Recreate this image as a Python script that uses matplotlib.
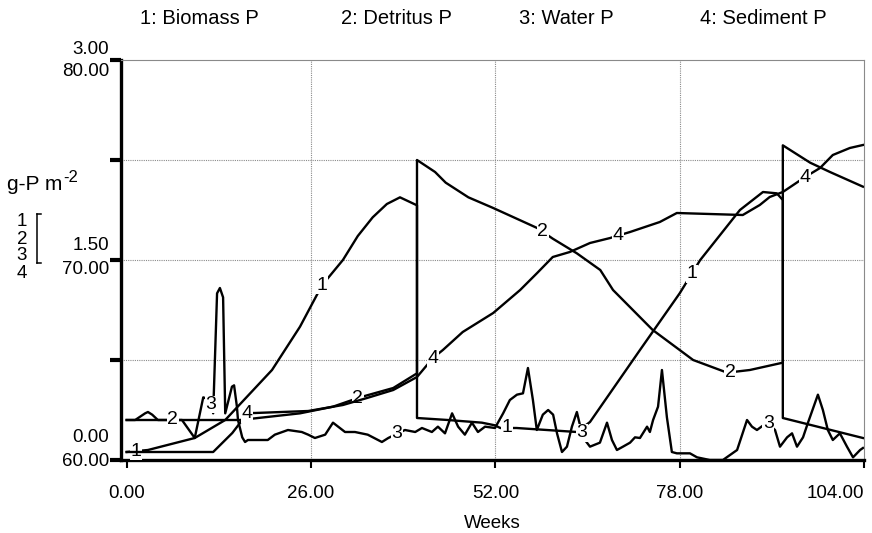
import matplotlib
matplotlib.use('Agg')
import matplotlib.pyplot as plt
from matplotlib.lines import Line2D
import numpy as np

plt.rcParams['font.family'] = ['Liberation Sans', 'DejaVu Sans']

# --- data (weeks, g-P m-2) ---
# 1: Biomass P (left scale 0-3)
bio_wk = [0, 3.0, 9.6, 13.9, 20.5, 24.45, 27.55, 30.5, 32.6, 34.7, 36.7, 38.55, 40.95, 40.95,
          45.3, 50.1, 51.95, 52.7, 55.0, 63.5, 65.35, 72.4, 78.0, 80.9, 86.5, 89.75, 91.7,
          92.55, 92.55, 103.85]
bio_val = [0.06, 0.075, 0.165, 0.30, 0.675, 1.0, 1.31, 1.50, 1.68, 1.82, 1.92, 1.97, 1.91,
           0.315, 0.30, 0.28, 0.26, 0.24, 0.24, 0.21, 0.285, 0.825, 1.25, 1.50, 1.875, 2.01,
           2.0, 1.95, 0.315, 0.165]

# 2: Detritus P (left scale 0-3)
det_wk = [0, 16.0, 24.45, 29.1, 32.9, 37.6, 40.95, 40.95, 43.5, 45.0, 48.2, 51.7, 57.9, 60.1,
          63.5, 66.8, 68.6, 74.2, 78.0, 79.9, 84.7, 87.9, 92.55, 92.55, 96.4, 99.2, 103.85]
det_val = [0.30, 0.30, 0.35, 0.40, 0.47, 0.54, 0.65, 2.25, 2.16, 2.08, 1.97, 1.89, 1.74, 1.66,
           1.55, 1.425, 1.275, 0.975, 0.825, 0.75, 0.655, 0.675, 0.73, 2.36, 2.23, 2.16, 2.05]

# 3: Water P (left scale 0-3)
wat_wk = [0, 1.2, 2.6, 3.0, 3.6, 4.4, 7.8, 9.6, 10.8, 11.75, 12.2, 12.75, 13.15, 13.6, 13.9,
          14.85, 15.15, 15.55, 15.7, 16.3, 16.7, 17.1, 19.9, 20.9, 22.75, 24.7, 25.6, 26.55,
          28.0, 29.1, 30.8, 32.2, 34.0, 36.0, 36.9, 37.85, 39.25, 40.7, 41.65, 43.05, 43.9,
          44.9, 45.9, 46.75, 47.7, 48.7, 49.55, 50.55, 51.95, 53.1, 54.05, 55.05, 55.9, 56.6,
          57.3, 57.85, 58.7, 59.45, 60.15, 60.7, 61.4, 62.1, 62.8, 63.5, 64.35, 65.35, 66.75,
          67.75, 68.45, 69.15, 70.0, 71.0, 71.7, 72.4, 73.4, 73.8, 74.25, 74.95, 75.5, 76.2,
          76.9, 77.6, 79.45, 80.45, 82.25, 84.1, 86.1, 87.5, 88.2, 88.9, 90.3, 91.45, 92.15,
          93.15, 93.85, 94.55, 95.4, 96.1, 97.5, 98.2, 98.9, 99.6, 100.6, 101.6, 102.45,
          103.45, 103.85]
wat_val = [0.30, 0.30, 0.35, 0.36, 0.34, 0.30, 0.30, 0.165, 0.47, 0.45, 0.35, 1.25, 1.29, 1.22,
           0.35, 0.55, 0.56, 0.40, 0.30, 0.17, 0.135, 0.15, 0.15, 0.19, 0.225, 0.21, 0.19,
           0.165, 0.19, 0.28, 0.21, 0.21, 0.19, 0.135, 0.165, 0.19, 0.225, 0.21, 0.24, 0.21,
           0.25, 0.20, 0.35, 0.25, 0.19, 0.28, 0.21, 0.25, 0.24, 0.35, 0.45, 0.49, 0.50, 0.69,
           0.45, 0.225, 0.34, 0.375, 0.34, 0.20, 0.06, 0.10, 0.25, 0.36, 0.17, 0.10, 0.13,
           0.28, 0.15, 0.075, 0.10, 0.13, 0.17, 0.165, 0.25, 0.21, 0.30, 0.40, 0.675, 0.32,
           0.06, 0.05, 0.05, 0.02, 0.0, 0.0, 0.075, 0.30, 0.25, 0.225, 0.28, 0.225, 0.10,
           0.17, 0.20, 0.10, 0.17, 0.28, 0.49, 0.375, 0.225, 0.15, 0.20, 0.10, 0.02, 0.075,
           0.09]

# 4: Sediment P (right-hand scale 60-80)
sed_wk = [0, 12.2, 14.9, 16.3, 17.1, 18.1, 25.6, 30.5, 33.9, 37.6, 40.95, 43.2, 44.6, 47.4,
          51.7, 55.5, 57.9, 60.1, 62.5, 65.35, 68.2, 71.0, 75.2, 77.6, 86.9, 89.3, 90.7,
          92.55, 95.7, 97.8, 99.6, 102.0, 103.85]
sed_val = [60.4, 60.4, 61.35, 62.0, 62.35, 62.35, 62.45, 62.75, 63.1, 63.5, 64.15, 65.1, 65.5,
           66.4, 67.35, 68.5, 69.35, 70.15, 70.4, 70.85, 71.1, 71.4, 71.9, 72.35, 72.25,
           72.75, 73.15, 73.4, 74.15, 74.6, 75.25, 75.6, 75.75]

# where the series numbers sit on each curve (weeks)
lab_wk = {1: [1.3, 27.55, 53.6, 79.7],
          2: [6.5, 32.6, 58.7, 85.1],
          3: [11.9, 38.1, 64.2, 90.5],
          4: [17.0, 43.2, 69.3, 95.7]}

names = ['1: Biomass P', '2: Detritus P', '3: Water P', '4: Sediment P']
x_ticks = [0, 26, 52, 78, 104]
x_ticklabels = ['0.00', '26.00', '52.00', '78.00', '104.00']

FS = 13.5
W, H = 872, 533

fig = plt.figure(figsize=(W / 100, H / 100), dpi=100)
ax = fig.add_axes([121 / W, 73 / H, 743 / W, 400 / H])
ax.set_xlim(-0.8, 104)
ax.set_ylim(0, 3)
ax2 = ax.twinx()
ax2.set_ylim(60, 80)
ax2.set_position(ax.get_position())
ax2.axis('off')

# dotted grid
for gx in [26, 52, 78]:
    ax.axvline(gx, color='#8a8a8a', lw=0.8, ls=(0, (1, 1)), zorder=0)
for gy in [0.75, 1.5, 2.25]:
    ax.axhline(gy, color='#8a8a8a', lw=0.8, ls=(0, (1, 1)), zorder=0)

for s in ['top', 'right']:
    ax.spines[s].set_color('#8a8a8a')
    ax.spines[s].set_linestyle((0, (1, 1)))
    ax.spines[s].set_linewidth(0.8)
for s in ['left', 'bottom']:
    ax.spines[s].set_linewidth(2.4)
    ax.spines[s].set_color('black')

lw = 1.7
ax.plot(bio_wk, bio_val, color='black', lw=lw, zorder=3)
ax.plot(det_wk, det_val, color='black', lw=lw, zorder=3)
ax.plot(wat_wk, wat_val, color='black', lw=lw, zorder=3)
ax2.plot(sed_wk, sed_val, color='black', lw=lw, zorder=3)

box = dict(facecolor='white', edgecolor='none', pad=0.3)
for i, (wk, val, a) in enumerate([(bio_wk, bio_val, ax), (det_wk, det_val, ax),
                                  (wat_wk, wat_val, ax), (sed_wk, sed_val, ax2)], start=1):
    for lx in lab_wk[i]:
        ly = np.interp(lx, wk, val)
        a.text(lx, ly, str(i), ha='center', va='center', fontsize=FS + 0.5, bbox=box, zorder=5)

ax.set_xticks(x_ticks)
ax.set_xticklabels(x_ticklabels, fontsize=FS)
ax.get_xticklabels()[-1].set_horizontalalignment('right')
ax.tick_params(axis='x', direction='out', length=6, width=1.5, pad=12)
ax.set_yticks([0, 0.75, 1.5, 2.25, 3])
ax.set_yticklabels([])
ax.tick_params(axis='y', direction='out', length=8, width=3)
ax.set_xlabel('Weeks', fontsize=FS, labelpad=9)

# left scale labels (two scales stacked)
def ftxt(px, py, s, size=FS, **kw):
    return fig.text(px / W, 1 - py / H, s, fontsize=size, **kw)

ftxt(109, 49, '3.00', ha='right', va='center')
ftxt(109, 72, '80.00', ha='right', va='center')
ftxt(109, 246, '1.50', ha='right', va='center')
ftxt(109, 270, '70.00', ha='right', va='center')
ftxt(109, 437, '0.00', ha='right', va='center')
ftxt(109, 461, '60.00', ha='right', va='center')
unit = ftxt(7, 184, 'g-P m', size=15, ha='left', va='center')
fig.canvas.draw()
ux = unit.get_window_extent().x1
ftxt(ux + 1, 177, '-2', size=12, ha='left', va='center')
for k in range(4):
    ftxt(22, 222 + 17 * k, str(k + 1), ha='center', va='center')
# bracket grouping series 1-3 on the 0-3 scale
bx = 37 / W
fig.add_artist(Line2D([bx, bx], [1 - 214 / H, 1 - 263 / H], color='black', lw=1.1))
fig.add_artist(Line2D([bx, bx + 4 / W], [1 - 214 / H, 1 - 214 / H], color='black', lw=1.1))
fig.add_artist(Line2D([bx, bx + 4 / W], [1 - 263 / H, 1 - 263 / H], color='black', lw=1.1))

# series header
for name, cx in zip(names, [199, 396, 566, 763]):
    ftxt(cx, 18, name, size=14.5, ha='center', va='center')

fig.savefig('out.png', dpi=100)
